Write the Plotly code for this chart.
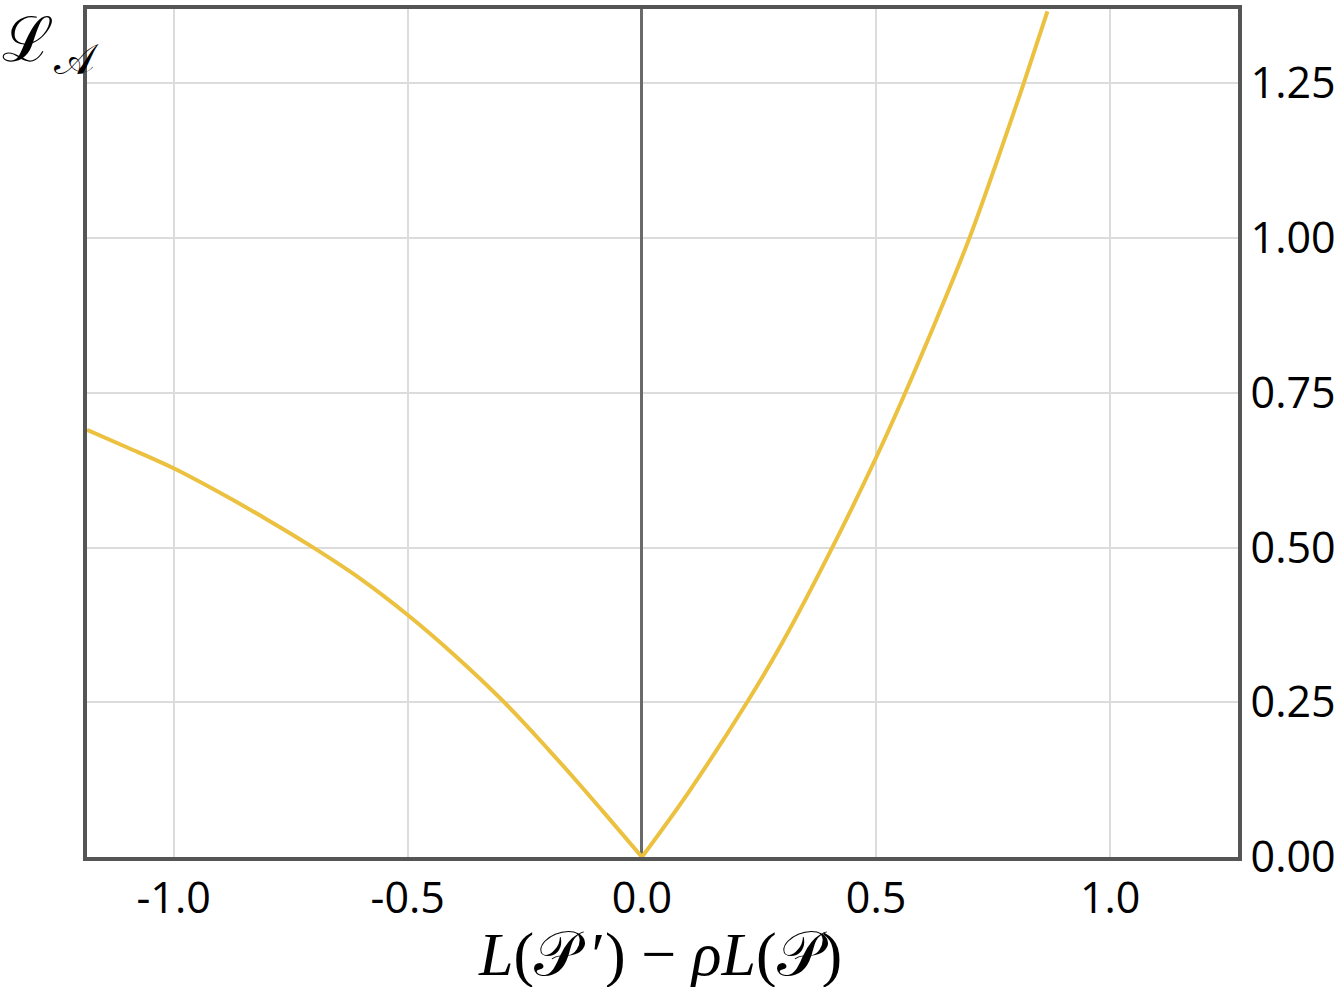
import plotly.graph_objects as go

# Data
left_x = [-1.185, -1.1, -1.0, -0.9, -0.8, -0.704, -0.6, -0.5, -0.4, -0.294, -0.2, -0.134, -0.07, 0.0]
left_y = [0.69, 0.662, 0.628, 0.588, 0.545, 0.501, 0.449, 0.391, 0.326, 0.25, 0.174, 0.118, 0.062, 0.0]
right_x = [0.0, 0.1, 0.2246, 0.3, 0.406, 0.5, 0.559, 0.63, 0.699, 0.76, 0.8145, 0.866]
right_y = [0.0, 0.105, 0.25, 0.3465, 0.499, 0.645, 0.744, 0.870, 0.999, 1.128, 1.248, 1.366]

x_ticks = [-1.0, -0.5, 0.0, 0.5, 1.0]
x_ticktext = ["-1.0", "-0.5", "0.0", "0.5", "1.0"]
y_ticks = [0.0, 0.25, 0.5, 0.75, 1.0, 1.25]
y_ticktext = ["0.00", "0.25", "0.50", "0.75", "1.00", "1.25"]

W, H = 1341, 987
L, R, T, B = 87, 101, 5, 130
pw, ph = W - L - R, H - T - B

def px(xp):
    return (xp - L) / pw

def py(yp):
    return (H - B - yp) / ph

line_color = "#EBC13F"
fig = go.Figure()
for xs, ys in [(left_x, left_y), (right_x, right_y)]:
    fig.add_trace(go.Scatter(x=xs, y=ys, mode="lines",
                             line=dict(color=line_color, width=4, shape="spline", smoothing=1.0),
                             hoverinfo="skip", showlegend=False))

fig.update_layout(
    width=W, height=H,
    margin=dict(l=L, r=R, t=T, b=B),
    paper_bgcolor="white", plot_bgcolor="white",
    font=dict(family="Open Sans", size=43, color="black"),
    xaxis=dict(range=[-1.185, 1.273], tickvals=x_ticks, ticktext=x_ticktext,
               showgrid=True, gridcolor="#dcdcdc", gridwidth=1.5,
               zeroline=True, zerolinecolor="#6a6a6a", zerolinewidth=3,
               showline=True, mirror=True, linecolor="#555555", linewidth=4,
               ticks="", tickfont=dict(family="Open Sans", size=43)),
    yaxis=dict(range=[0, 1.37], tickvals=y_ticks, ticktext=y_ticktext, side="right",
               showgrid=True, gridcolor="#dcdcdc", gridwidth=1.5,
               zeroline=False,
               showline=True, mirror=True, linecolor="#555555", linewidth=4,
               ticks="", tickfont=dict(family="Open Sans", size=43)),
)

fig.add_annotation(xref="paper", yref="paper", x=px(0), y=py(40), xanchor="left", yanchor="middle",
                   text="ℒ<sub>𝒜</sub>", showarrow=False,
                   font=dict(family="DejaVu Serif", size=62, color="black"))
fig.add_annotation(xref="paper", yref="paper", x=px(661), y=py(955), xanchor="center", yanchor="middle",
                   text="<i>L</i>(𝒫\u2009′) − <i>ρL</i>(𝒫)", showarrow=False,
                   font=dict(family="Liberation Serif", size=62, color="black"))

fig.write_html("out.html", config={"displayModeBar": False},
               post_script="document.body.style.margin='0';document.body.style.padding='0';")
